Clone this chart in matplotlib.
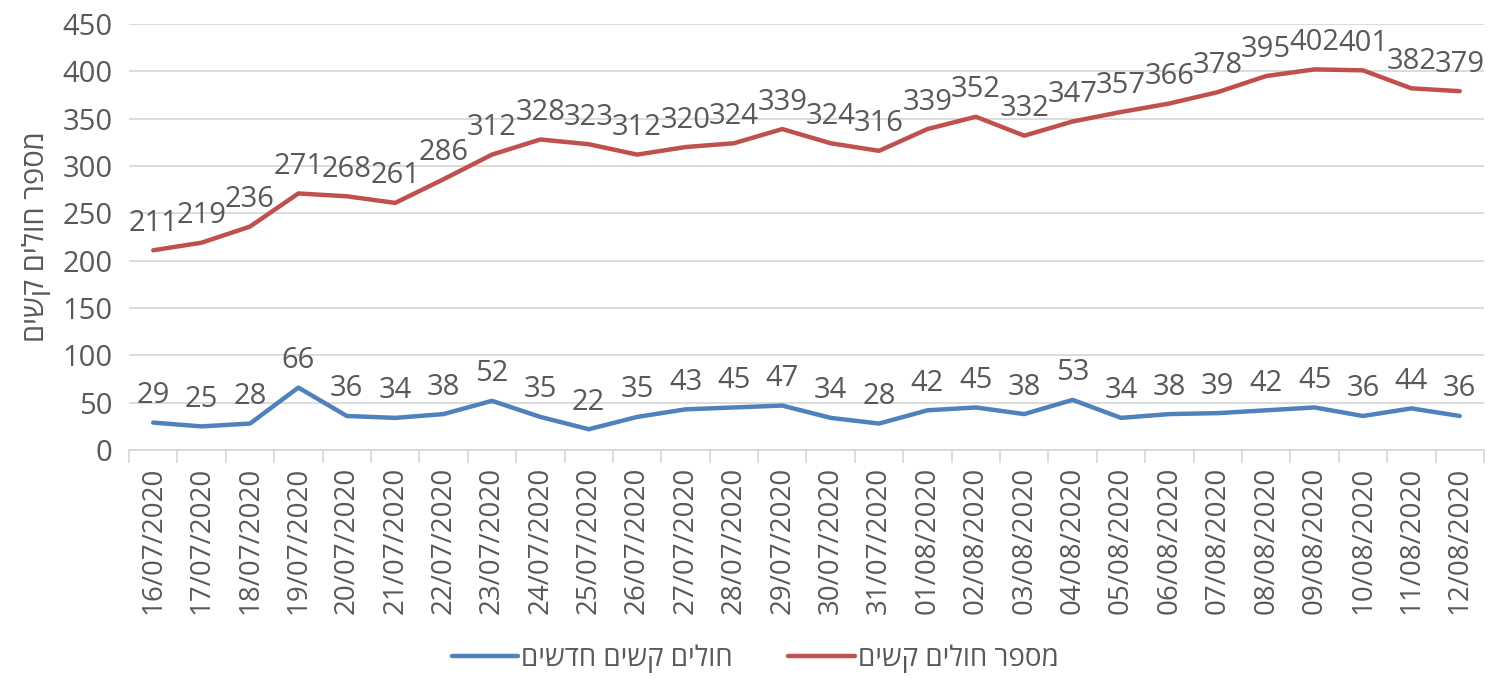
import numpy as np
import matplotlib.pyplot as plt

plt.rcParams['font.family'] = ['Open Sans', 'DejaVu Sans']

dates = ['16/07/2020', '17/07/2020', '18/07/2020', '19/07/2020', '20/07/2020',
         '21/07/2020', '22/07/2020', '23/07/2020', '24/07/2020', '25/07/2020',
         '26/07/2020', '27/07/2020', '28/07/2020', '29/07/2020', '30/07/2020',
         '31/07/2020', '01/08/2020', '02/08/2020', '03/08/2020', '04/08/2020',
         '05/08/2020', '06/08/2020', '07/08/2020', '08/08/2020', '09/08/2020',
         '10/08/2020', '11/08/2020', '12/08/2020']
new_severe = [29, 25, 28, 66, 36, 34, 38, 52, 35, 22, 35, 43, 45, 47, 34,
              28, 42, 45, 38, 53, 34, 38, 39, 42, 45, 36, 44, 36]
total_severe = [211, 219, 236, 271, 268, 261, 286, 312, 328, 323, 312, 320, 324, 339, 324,
                316, 339, 352, 332, 347, 357, 366, 378, 395, 402, 401, 382, 379]

lbl_new = 'חולים קשים חדשים'
lbl_total = 'מספר חולים קשים'
ylab = 'מספר חולים קשים'

def rtl(s):
    # matplotlib has no bidi, reverse hebrew by hand
    return s[::-1]

txt = '#595959'
fig = plt.figure(figsize=(14.95, 6.84), dpi=100)
ax = fig.add_axes([0.0863, 0.342, 0.9063, 0.623])

x = np.arange(len(dates))
ax.plot(x, new_severe, color='#4F81BD', lw=3.2, solid_capstyle='round', label=rtl(lbl_new))
ax.plot(x, total_severe, color='#C0504D', lw=3.2, solid_capstyle='round', label=rtl(lbl_total))

for xi, v in zip(x, new_severe):
    ax.annotate(str(v), (xi, v), xytext=(0, 9), textcoords='offset points',
                ha='center', va='bottom', fontsize=21, color=txt)
for xi, v in zip(x, total_severe):
    ax.annotate(str(v), (xi, v), xytext=(0, 9), textcoords='offset points',
                ha='center', va='bottom', fontsize=21, color=txt)

ax.set_xlim(-0.5, len(dates) - 0.5)
ax.set_ylim(0, 450)
ax.set_yticks(np.arange(0, 451, 50))
ax.yaxis.grid(True, color='#D9D9D9', lw=1.3)
ax.set_axisbelow(True)
for s in ['left', 'right', 'top']:
    ax.spines[s].set_visible(False)
ax.spines['bottom'].set_color('#D9D9D9')
ax.spines['bottom'].set_linewidth(1.3)

ax.set_xticks(x)
ax.set_xticklabels(dates, rotation=90, fontsize=20, color=txt)
ax.set_xticks(np.arange(-0.5, len(dates), 1), minor=True)
ax.tick_params(axis='x', which='major', length=0, pad=12)
ax.tick_params(axis='x', which='minor', length=9, color='#D9D9D9', width=1.3)
ax.tick_params(axis='y', length=0, labelsize=21, labelcolor=txt, pad=12)

ax.set_ylabel(rtl(ylab), fontsize=21, color=txt, labelpad=8)

leg = fig.legend(loc='lower center', bbox_to_anchor=(0.505, -0.02), ncol=2, frameon=False,
                 fontsize=20, handlelength=2.4, columnspacing=2.0, handletextpad=0.1)
for t in leg.get_texts():
    t.set_color(txt)

fig.savefig('out.png', dpi=100)
